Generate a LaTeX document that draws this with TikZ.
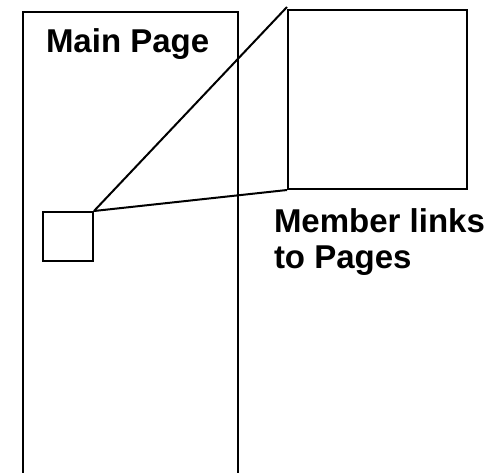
\documentclass[tikz,border=0pt]{standalone}
\usepackage{fontspec}
\setmainfont{Liberation Sans}
\usepackage{tikz}
\usetikzlibrary{positioning,calc}
\tikzstyle{box}= [rectangle, draw, line width=2pt, inner sep=0pt]
\tikzstyle{lbl}= [inner sep=0pt, font=\bfseries\fontsize{33}{36}\selectfont]

\begin{document}
\begin{tikzpicture}[x=1pt,y=-1pt,line width=2pt]
				\useasboundingbox (0,0) rectangle (495,473);
				\draw (23,474) -- (23,12) -- (238,12) -- (238,474);
				\node[lbl, anchor=base west] (main) at (45,53) {Main Page};

				\node[box, minimum width=50pt, minimum height=49pt] (link) at (68,236.5) {};
				\node[box, minimum width=179pt, minimum height=179pt] (page) at (377.5,99.5) {};
				\draw(link.north east) -- ($(page.north west)+(0,-2)$);
				\draw(link.north east) -- (page.south west);

				\node[lbl, anchor=north west, align=left] (caption) at (273,208) {Member links\\to Pages};
			\end{tikzpicture}
\end{document}
